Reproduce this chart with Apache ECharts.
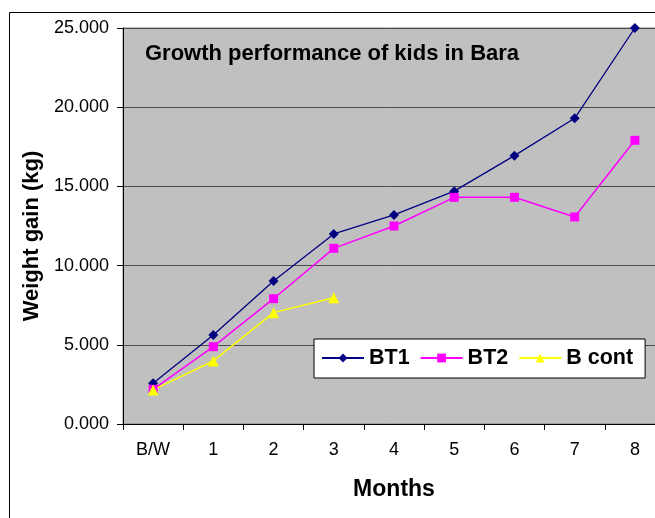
<!DOCTYPE html>
<html>
<head>
<meta charset="utf-8">
<script src="https://cdn.jsdelivr.net/npm/echarts@6/dist/echarts.min.js"></script>
<style>
  html, body { margin: 0; padding: 0; background: #fff; }
  #main { width: 655px; height: 518px; }
</style>
</head>
<body>
<div id="main"></div>
<script>
// data
var months = ['B/W', '1', '2', '3', '4', '5', '6', '7', '8'];
var bt1 = [2.57, 5.62, 9.03, 12.0, 13.2, 14.7, 16.94, 19.3, 25.0];
var bt2 = [2.19, 4.88, 7.91, 11.09, 12.5, 14.31, 14.31, 13.07, 17.91];
var bcont = [2.15, 3.98, 7.03, 7.97, null, null, null, null, null];

var fontFam = '"Liberation Sans", Arial, sans-serif';

var myChart = echarts.init(document.getElementById('main'));

var option = {
    backgroundColor: '#fff',
    animation: false,
    title: {
        text: 'Growth performance of kids in Bara',
        left: 145,
        top: 43,
        padding: 0,
        textStyle: { fontFamily: fontFam, fontSize: 22, fontWeight: 'bold', color: '#000' }
    },
    // chart area border
    graphic: [{
        type: 'rect',
        shape: { x: 9.5, y: 12.5, width: 700, height: 600 },
        style: { fill: 'none', stroke: '#000', lineWidth: 1 },
        z: -1
    }],
    legend: {
        left: 314,
        top: 339,
        orient: 'horizontal',
        backgroundColor: '#fff',
        borderColor: '#000',
        borderWidth: 1,
        borderRadius: 0,
        padding: [8, 12, 9, 7],
        itemWidth: 42,
        itemHeight: 11,
        itemGap: 10,
        textStyle: { fontFamily: fontFam, fontSize: 21.5, fontWeight: 'bold', color: '#000' },
        data: ['BT1', 'BT2', 'B cont']
    },
    grid: {
        left: 123,
        top: 28,
        width: 542,
        height: 396,
        outerBoundsMode: 'none',
        show: true,
        backgroundColor: '#C0C0C0',
        borderColor: '#808080',
        borderWidth: 1
    },
    xAxis: {
        type: 'category',
        data: months,
        boundaryGap: true,
        name: 'Months',
        nameLocation: 'middle',
        nameGap: 54,
        nameTextStyle: { fontFamily: fontFam, fontSize: 23, fontWeight: 'bold', color: '#000' },
        axisLine: { lineStyle: { color: '#000', width: 1 } },
        axisTick: { show: true, inside: false, length: 6, alignWithLabel: false, lineStyle: { color: '#000' } },
        axisLabel: { margin: 17, fontFamily: fontFam, fontSize: 18, color: '#000' },
        splitLine: { show: false }
    },
    yAxis: {
        type: 'value',
        min: 0,
        max: 25,
        interval: 5,
        name: 'Weight gain (kg)',
        nameLocation: 'middle',
        nameRotate: 90,
        nameGap: 78,
        nameTextStyle: { fontFamily: fontFam, fontSize: 22, fontWeight: 'bold', color: '#000', padding: [0, 20, 0, 0] },
        axisLine: { show: true, lineStyle: { color: '#000', width: 1 } },
        axisTick: { show: true, inside: false, length: 6, lineStyle: { color: '#000' } },
        axisLabel: {
            margin: 14,
            fontFamily: fontFam,
            fontSize: 18,
            color: '#000',
            formatter: function(v) { return v.toFixed(3); }
        },
        splitLine: { show: true, lineStyle: { color: '#4d4d4d', width: 1 } }
    },
    series: [{
        name: 'BT1',
        type: 'line',
        data: bt1,
        symbol: 'diamond',
        symbolSize: 10,
        clip: false,
        itemStyle: { color: '#000080' },
        lineStyle: { color: '#000080', width: 1.3 }
    }, {
        name: 'BT2',
        type: 'line',
        data: bt2,
        symbol: 'rect',
        symbolSize: 9,
        clip: false,
        itemStyle: { color: '#FF00FF' },
        lineStyle: { color: '#FF00FF', width: 1.5 }
    }, {
        name: 'B cont',
        type: 'line',
        data: bcont,
        symbol: 'triangle',
        symbolSize: 11,
        clip: false,
        itemStyle: { color: '#FFFF00' },
        lineStyle: { color: '#FFFF00', width: 1.5 }
    }]
};

myChart.setOption(option);
</script>
</body>
</html>
